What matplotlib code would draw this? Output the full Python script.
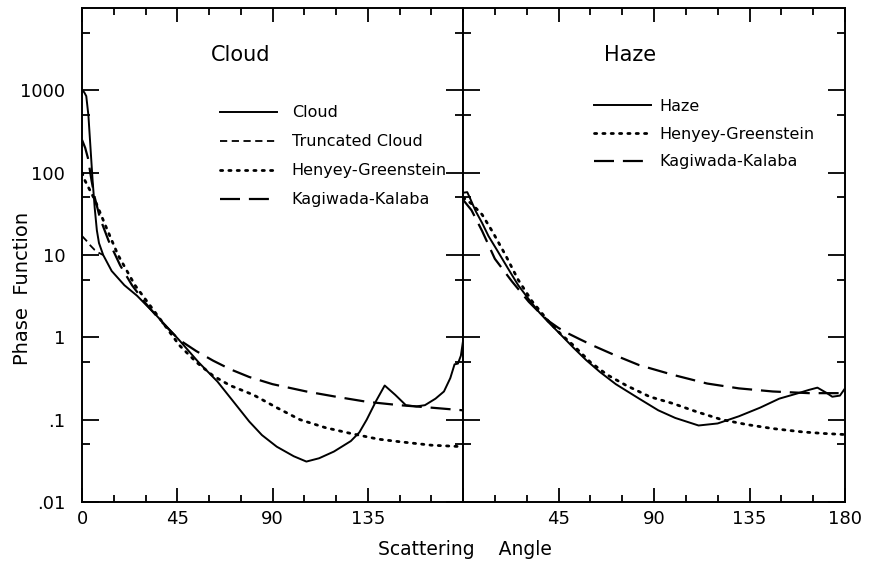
import matplotlib
matplotlib.use("Agg")
import matplotlib.pyplot as plt
from matplotlib.ticker import FixedLocator, NullFormatter

# --- data (angle in degrees, phase function) ---
cloud_ang = [0, 1, 2, 3, 4, 5, 6, 7, 8, 10, 14, 20, 26, 35, 46, 55, 64, 72, 79, 85,
             92, 100, 106, 112, 119, 127, 131, 134.5, 139, 143, 148, 153, 158, 162,
             167, 171, 174, 176, 177.6, 179, 180]
cloud_val = [1000, 950, 850, 500, 200, 80, 37, 20, 14, 10, 6.4, 4.3, 3.2, 1.86, 0.92,
             0.5, 0.29, 0.16, 0.095, 0.065, 0.047, 0.036, 0.031, 0.034, 0.041, 0.055,
             0.07, 0.10, 0.17, 0.26, 0.2, 0.15, 0.145, 0.15, 0.18, 0.22, 0.32, 0.47,
             0.48, 0.6, 0.9]

trunc_ang = [0, 2, 4, 6, 8, 10]
trunc_val = [17, 15, 13, 11.5, 10.6, 10]

cloud_hg_ang = [0, 1.4, 6, 11, 17, 25, 34, 40, 46, 54, 62, 70, 81, 92, 103, 115, 127,
                140, 150, 165, 180]
cloud_hg_val = [100, 80, 47, 23, 10, 4.3, 2.1, 1.3, 0.8, 0.5, 0.34, 0.26, 0.2, 0.14,
                0.10, 0.08, 0.068, 0.058, 0.054, 0.049, 0.047]

cloud_kk_ang = [0, 1.5, 2.8, 4.5, 6, 8.5, 12.5, 18, 23.6, 30, 38, 46, 54, 62, 70, 79,
                90, 106, 120, 134.5, 150, 165, 180]
cloud_kk_val = [250, 200, 150, 80, 50, 28, 15, 7.5, 4.3, 2.6, 1.5, 0.93, 0.68, 0.52,
                0.41, 0.33, 0.27, 0.22, 0.19, 0.165, 0.15, 0.14, 0.13]

haze_ang = [0, 2, 3.3, 6, 9, 12, 16, 21, 26, 31, 36, 40, 45, 52, 58, 64.5, 72, 83, 92,
            100, 111, 120, 130, 140, 149, 158, 163, 167, 171.5, 174, 177.6, 180]
haze_val = [57, 58, 49, 34, 24.5, 17, 11.5, 7, 4.3, 2.9, 2.0, 1.55, 1.15, 0.75, 0.53,
            0.38, 0.27, 0.18, 0.13, 0.105, 0.085, 0.09, 0.11, 0.14, 0.18, 0.21, 0.23,
            0.245, 0.21, 0.19, 0.196, 0.24]

haze_hg_ang = [0, 4, 9, 14, 20, 26, 32.5, 40, 46, 52, 60, 68, 77, 88, 99, 110, 122,
               134, 146, 160, 170, 180]
haze_hg_val = [50, 42, 31, 19, 10, 5, 2.75, 1.6, 1.1, 0.8, 0.5, 0.35, 0.26, 0.19,
               0.157, 0.125, 0.10, 0.087, 0.078, 0.071, 0.068, 0.066]

haze_kk_ang = [0, 4, 9, 15, 23, 31, 36, 40, 45, 50, 55, 61, 72, 83, 99, 115, 130, 146,
               163, 180]
haze_kk_val = [47, 35, 19.6, 9, 4.8, 2.7, 2.0, 1.6, 1.3, 1.1, 0.95, 0.8, 0.6, 0.46,
               0.35, 0.275, 0.24, 0.22, 0.21, 0.21]

ytick_vals = [0.01, 0.1, 1, 10, 100, 1000]
ytick_labels = [".01", ".1", "1", "10", "100", "1000"]
yminor_vals = [0.05, 0.5, 5, 50, 500, 5000]

plt.rcParams['font.family'] = 'DejaVu Sans'

fig = plt.figure(figsize=(8.69, 5.67), dpi=100)
ax1 = fig.add_axes([0.0944, 0.1146, 0.4384, 0.8713])
ax2 = fig.add_axes([0.5328, 0.1146, 0.4396, 0.8713])

solid = dict(color='black', lw=1.4, ls='-')
dashed = dict(color='black', lw=1.3, ls=(0, (4, 2.5)))
dotted = dict(color='black', lw=2.0, ls=(0, (0.8, 2.2)), dash_capstyle='round')
longdash = dict(color='black', lw=1.6, ls=(0, (9, 4)))

ax1.plot(cloud_ang, cloud_val, label='Cloud', **solid)
ax1.plot(trunc_ang, trunc_val, label='Truncated Cloud', **dashed)
ax1.plot(cloud_hg_ang, cloud_hg_val, label='Henyey-Greenstein', **dotted)
ax1.plot(cloud_kk_ang, cloud_kk_val, label='Kagiwada-Kalaba', **longdash)

ax2.plot(haze_ang, haze_val, label='Haze', **solid)
ax2.plot(haze_hg_ang, haze_hg_val, label='Henyey-Greenstein', **dotted)
ax2.plot(haze_kk_ang, haze_kk_val, label='Kagiwada-Kalaba', **longdash)

for ax in (ax1, ax2):
    ax.set_yscale('log')
    ax.set_ylim(0.01, 10000)
    ax.set_xlim(0, 180)
    ax.xaxis.set_major_locator(FixedLocator([0, 45, 90, 135, 180]))
    ax.xaxis.set_minor_locator(FixedLocator(range(0, 181, 15)))
    ax.yaxis.set_major_locator(FixedLocator(ytick_vals))
    ax.yaxis.set_minor_locator(FixedLocator(yminor_vals))
    ax.yaxis.set_minor_formatter(NullFormatter())
    ax.tick_params(which='both', direction='in', top=True, right=True, width=1.3,
                   labelsize=13)
    ax.tick_params(axis='y', which='major', length=12)
    ax.tick_params(axis='y', which='minor', length=6)
    ax.tick_params(axis='x', which='major', length=10, pad=6)
    ax.tick_params(axis='x', which='minor', length=5)
    for s in ax.spines.values():
        s.set_linewidth(1.4)

ax1.set_xticklabels(['0', '45', '90', '135', ''])
ax1.set_yticklabels(ytick_labels)
ax1.tick_params(axis='y', pad=12)
ax2.set_xticklabels(['', '45', '90', '135', '180'])
ax2.set_yticklabels([])

ax1.text(0.415, 0.905, 'Cloud', transform=ax1.transAxes, ha='center', va='center',
         fontsize=15)
ax2.text(0.437, 0.905, 'Haze', transform=ax2.transAxes, ha='center', va='center',
         fontsize=15)

leg_kw = dict(frameon=False, loc='upper left', handlelength=3.6,
              fontsize=11.5, borderaxespad=0)
ax1.legend(bbox_to_anchor=(0.345, 0.816), labelspacing=0.88, handletextpad=0.9,
           **leg_kw)
ax2.legend(bbox_to_anchor=(0.325, 0.829), labelspacing=0.8, handletextpad=0.5,
           **leg_kw)

fig.text(0.026, 0.492, 'Phase  Function', rotation=90, ha='center', va='center',
         fontsize=14)
fig.text(0.535, 0.03, 'Scattering    Angle', ha='center', va='center', fontsize=13.5)

fig.savefig('out.png', dpi=100)
